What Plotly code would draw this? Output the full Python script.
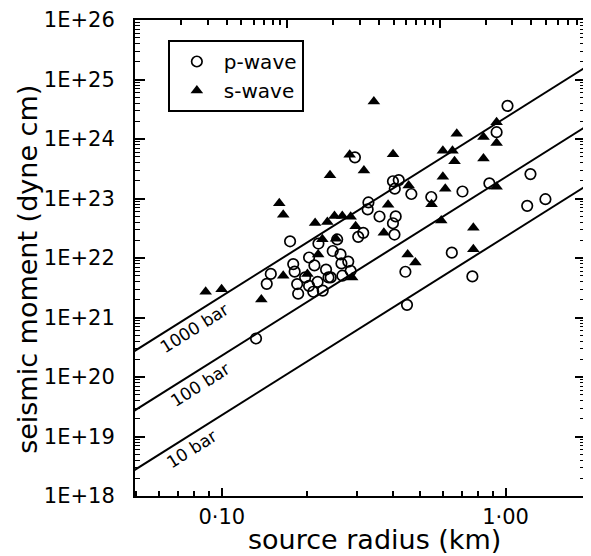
import numpy as np
import plotly.graph_objects as go

# ---- data (source radius in km, seismic moment in dyne cm) ----
p_radius = [0.174, 0.219, 0.255, 0.246, 0.262, 0.203, 0.212, 0.264, 0.1785, 0.1806,
            0.1488, 0.144, 0.233, 0.2377, 0.266, 0.1843, 0.1966, 0.203, 0.2176, 0.1858,
            0.210, 0.2268, 0.279, 0.2845, 0.242, 0.3025, 0.315, 0.3596, 0.410, 0.401,
            0.406, 0.3286, 0.3266, 0.2945, 0.401, 0.4203, 0.407, 0.4656, 0.5473, 0.705,
            0.877, 0.930, 1.016, 1.224, 1.192, 1.382, 0.6465, 0.4436, 0.764, 0.4494, 0.132]
p_moment = [1.91e22, 1.75e22, 2.05e22, 1.31e22, 1.15e22, 1.02e22, 7.5e21, 8.1e21, 7.9e21, 5.9e21,
            5.4e21, 3.68e21, 6.4e21, 4.72e21, 5.04e21, 3.65e21, 4.72e21, 3.4e21, 3.97e21, 2.51e21,
            2.71e21, 2.83e21, 8.7e21, 6.1e21, 4.72e21, 2.27e22, 2.65e22, 4.98e22, 5.0e22, 3.84e22,
            2.48e22, 8.58e22, 6.56e22, 4.92e23, 1.95e23, 2.04e23, 1.46e23, 1.19e23, 1.06e23, 1.31e23,
            1.8e23, 1.3e24, 3.61e24, 2.57e23, 7.53e22, 9.73e22, 1.23e22, 5.87e21, 4.91e21, 1.63e21, 4.44e20]

s_radius = [0.0877, 0.0998, 0.1378, 0.1594, 0.1646, 0.1646, 0.2003, 0.2132, 0.2355, 0.2495,
            0.2658, 0.2845, 0.2261, 0.2526, 0.2185, 0.2406, 0.2962, 0.288, 0.3434, 0.2822,
            0.4013, 0.3168, 0.3855, 0.3724, 0.4556, 0.4519, 0.481, 0.5485, 0.5934, 0.6012,
            0.650, 0.661, 0.673, 0.6012, 0.613, 0.770, 0.770, 0.836, 0.836, 0.930, 0.930, 0.930]
s_moment = [2.71e21, 2.98e21, 2.0e21, 8.35e22, 5.33e22, 5.04e21, 5.36e21, 3.88e22, 4.03e22, 5.07e22,
            5.07e22, 4.94e22, 2.06e22, 2.1e22, 1.15e22, 2.47e23, 3.42e22, 4.72e21, 4.27e24, 5.46e23,
            5.52e23, 2.96e23, 7.83e22, 2.65e22, 1.65e23, 1.15e22, 8.4e21, 8.04e22, 4.27e22, 6.36e23,
            6.36e23, 4.21e23, 1.22e24, 2.32e23, 1.46e23, 3.21e22, 1.4e22, 1.08e24, 4.69e23, 1.91e24,
            8.55e23, 1.58e23]

# constant stress-drop lines: M0 = 16/7 * stress * r^3
stress_bar = [10, 100, 1000]
stress_labels = ["10 bar", "100 bar", "1000 bar"]
label_radius = [0.0783, 0.0835, 0.0802]

y_tickvals = [10.0 ** k for k in range(18, 27)]
y_ticktext = ["1E+%d" % k for k in range(18, 27)]
x_tickvals = [0.1, 1.0]
x_ticktext = ["0\u00b710", "1\u00b700"]


def moment(r_km, bar):
    return 16.0 / 7.0 * bar * 1e6 * (r_km * 1e5) ** 3


FONT = "DejaVu Sans"
fig = go.Figure()

r_line = np.array([0.04, 2.5])
for bar in stress_bar:
    fig.add_trace(go.Scatter(x=r_line, y=moment(r_line, bar), mode="lines",
                             line=dict(color="black", width=2), showlegend=False,
                             hoverinfo="skip"))

fig.add_trace(go.Scatter(x=p_radius, y=p_moment, mode="markers", name="p-wave",
                         marker=dict(symbol="circle-open", size=10.5, color="black",
                                     line=dict(width=1.7, color="black"))))
fig.add_trace(go.Scatter(x=s_radius, y=s_moment, mode="markers", name="s-wave",
                         marker=dict(symbol="triangle-up", size=11, color="black",
                                     line=dict(width=0))))

for bar, lab, rl in zip(stress_bar, stress_labels, label_radius):
    fig.add_annotation(x=np.log10(rl), y=np.log10(moment(rl, bar)), text=lab,
                       showarrow=False, textangle=-32.3, yshift=-15,
                       xanchor="center", yanchor="middle",
                       font=dict(family=FONT, size=17, color="black"))

minor_x = [k * 10.0 ** n for n in (-2, -1, 0) for k in range(2, 10)]
minor_y = [k * 10.0 ** n for n in range(18, 26) for k in range(2, 10)]

fig.update_layout(
    width=579, height=548,
    margin=dict(l=127, r=0, t=7, b=60, pad=0),
    paper_bgcolor="white", plot_bgcolor="white",
    font=dict(family=FONT, color="black"),
    showlegend=True,
    legend=dict(x=0.073, y=0.958, xanchor="left", yanchor="top",
                bordercolor="black", borderwidth=2, bgcolor="white",
                font=dict(family=FONT, size=20, color="black"), itemwidth=44),
    xaxis=dict(type="log", range=[-1.306, 0.280], showgrid=False, zeroline=False,
               showline=True, linecolor="black", linewidth=2, mirror=True,
               ticks="inside", ticklen=8, tickwidth=1.5, tickcolor="black",
               tickmode="array", tickvals=x_tickvals, ticktext=x_ticktext,
               tickfont=dict(family=FONT, size=21, color="black"),
               ticklabelstandoff=1, ticklabeloverflow="allow",
               minor=dict(ticks="inside", ticklen=5, tickwidth=1.5, tickcolor="black",
                          tickmode="array", tickvals=minor_x)),
    yaxis=dict(type="log", range=[18, 26], showgrid=False, zeroline=False,
               showline=True, linecolor="black", linewidth=2, mirror="ticks",
               ticks="inside", ticklen=10, tickwidth=1.5, tickcolor="black",
               tickmode="array", tickvals=y_tickvals, ticktext=y_ticktext,
               tickfont=dict(family=FONT, size=21, color="black"),
               ticklabelstandoff=14, ticklabeloverflow="allow",
               minor=dict(ticks="inside", ticklen=5, tickwidth=1.2, tickcolor="black",
                          tickmode="array", tickvals=minor_y)),
    xaxis2=dict(type="log", overlaying="x", side="top", anchor="y",
                range=[0, 2.954], showgrid=False, zeroline=False, showline=False,
                ticks="inside", ticklen=8, tickwidth=1.5, tickcolor="black",
                tickmode="array", tickvals=[1, 10, 100], showticklabels=False,
                minor=dict(ticks="inside", ticklen=5, tickwidth=1.5, tickcolor="black",
                           tickmode="array",
                           tickvals=[k * 10.0 ** n for n in (0, 1, 2) for k in range(2, 10)])),
)

fig.add_trace(go.Scatter(x=[], y=[], xaxis="x2", yaxis="y", showlegend=False,
                         hoverinfo="skip"))

fig.add_annotation(xref="paper", yref="paper", x=-0.239, y=0.476,
                   xanchor="center", yanchor="middle",
                   text="seismic moment (dyne cm)", textangle=-90, showarrow=False,
                   font=dict(family=FONT, size=27, color="black"))
fig.add_annotation(xref="paper", yref="paper", x=0.533, y=-0.0915,
                   xanchor="center", yanchor="middle",
                   text="source radius (km)", showarrow=False,
                   font=dict(family=FONT, size=27, color="black"))

fig.write_html("out.html")
